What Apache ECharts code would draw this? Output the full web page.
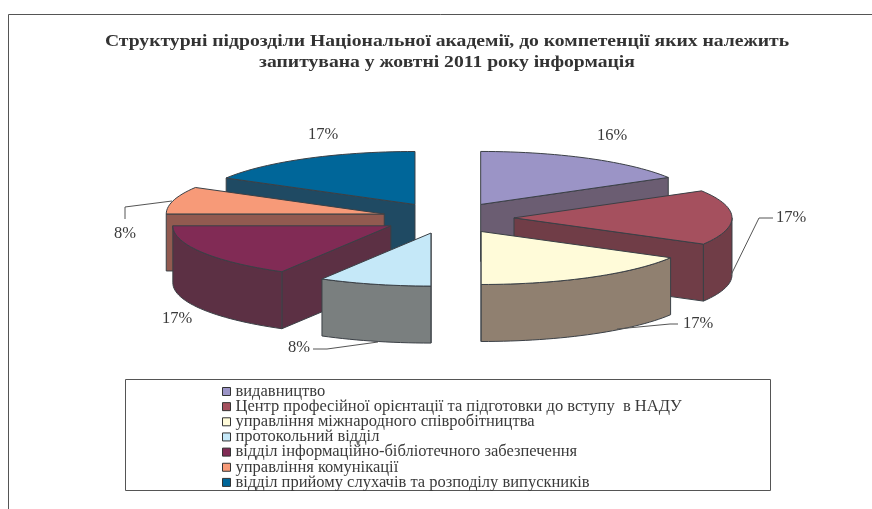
<!DOCTYPE html>
<html><head><meta charset="utf-8">
<style>html,body{margin:0;padding:0;background:#fff}#c{width:872px;height:509px}</style>
<script src="https://cdn.jsdelivr.net/npm/echarts@6/dist/echarts.min.js"></script>
</head><body><div id="c"></div>
<script>
const titleLines = ['Структурні підрозділи Національної академії, до компетенції яких належить', 'запитувана у жовтні 2011 року інформація'];
const categories = ['видавництво','Центр професійної орієнтації та підготовки до вступу  в НАДУ','управління міжнародного співробітництва','протокольний відділ','відділ інформаційно-бібліотечного забезпечення','управління комунікації','відділ прийому слухачів та розподілу випускників'];
const values = [16.49,16.75,16.76,8.33,16.67,8.33,16.67];
const topColors = ['#9b94c6','#a5505e','#fffbd9','#c5e8f8','#812b55','#f79a78','#006699'];
const sideColors = ['#6b5d72','#703d47','#908070','#7a7f7f','#5c3044','#925a50','#1f4a63'];

// projected pie geometry
const CX=448, CY=218, RX=218, RY=53, DEPTH=57, EX=66, EY=15.6;
const INK='#3b4046', TXT='#3a3a3a', FONT='"Liberation Serif",serif';
const total = values.reduce((a,b)=>a+b,0);
const rad = d=>d*Math.PI/180;
let acc=0;
const slices = values.map(v=>{
  const a0=acc/total*360; acc+=v; const a1=acc/total*360; const m=(a0+a1)/2;
  return {a0,a1,ax:CX+EX*Math.sin(rad(m)),ay:CY-EY*Math.cos(rad(m))};
});
const order = slices.map((s,i)=>i).sort((p,q)=>slices[p].ay-slices[q].ay);
function rim(s,a){return [s.ax+RX*Math.sin(rad(a)), s.ay-RY*Math.cos(rad(a))];}
function arc(s,a,b){const o=[];const n=Math.max(2,Math.ceil(Math.abs(b-a)/2));for(let k=0;k<=n;k++)o.push(rim(s,a+(b-a)*k/n));return o;}
const drop=p=>[p[0],p[1]+DEPTH];
function poly(points,fill,z2){return {type:'polygon',z2,shape:{points},style:{fill,stroke:INK,lineWidth:1,lineJoin:'round'}};}

function sliceRender(i){
  return function(){
    const s=slices[i], kids=[], apex=[s.ax,s.ay], side=sideColors[i];
    if(s.a0>=179.9){const p=rim(s,s.a0);kids.push(poly([apex,p,drop(p),drop(apex)],side,1));}
    if(s.a1<=180.1){const p=rim(s,s.a1);kids.push(poly([apex,p,drop(p),drop(apex)],side,1));}
    const f0=Math.max(s.a0,90), f1=Math.min(s.a1,270);
    if(f1>f0){const t=arc(s,f0,f1);kids.push(poly(t.concat(t.slice().reverse().map(drop)),side,2));}
    kids.push(poly([apex].concat(arc(s,s.a0,s.a1)),topColors[i],3));
    return {type:'group',children:kids};
  };
}
const series = categories.map((name,i)=>({
  type:'custom',name,coordinateSystem:'none',silent:true,animation:false,
  z:2+order.indexOf(i)*0.01,
  itemStyle:{color:topColors[i]},
  data:[values[i]],renderItem:sliceRender(i)
}));

const labelBoxes=[[612,136],[791,218],[698,324],[299,348],[177,319],[125,234],[323,135]];
const leaders=[null,[[731,275],[759,218],[773,218]],[[617,329],[670,324],[678,324]],[[378,342],[327,349],[313,349]],null,[[172,201],[125,207],[125,219]],null];
const graphic=[
  {type:'rect',z:0,shape:{x:8.5,y:14.5,width:870,height:500},style:{fill:'#fff',stroke:'#555',lineWidth:1}},
  {type:'rect',z:0,shape:{x:125.5,y:379.5,width:645,height:111},style:{fill:'#fff',stroke:'#555',lineWidth:1}}
];
titleLines.forEach((t,i)=>graphic.push({type:'text',z:5,x:447,y:41.5+i*21,scaleX:1.155,style:{text:t,font:'bold 17px '+FONT,fill:'#333',textAlign:'center',textVerticalAlign:'middle'}}));
values.forEach((v,i)=>{
  graphic.push({type:'text',z:5,x:labelBoxes[i][0],y:labelBoxes[i][1],style:{text:Math.round(v)+'%',font:'16.5px '+FONT,fill:TXT,textAlign:'center',textVerticalAlign:'middle'}});
  if(leaders[i])graphic.push({type:'polyline',z:5,shape:{points:leaders[i]},style:{stroke:'#555',lineWidth:1,fill:'none'}});
});

const chart=echarts.init(document.getElementById('c'),null,{renderer:'canvas'});
chart.setOption({
  animation:false,backgroundColor:'#fff',
  legend:{show:true,orient:'vertical',left:217,top:378,itemWidth:8,itemHeight:8,itemGap:-1.85,icon:'rect',selectedMode:false,
    data:categories,
    itemStyle:{borderColor:'#333',borderWidth:1},
    textStyle:{fontFamily:FONT,fontSize:16.5,color:TXT}},
  graphic:{elements:graphic},
  series
});
</script></body></html>
